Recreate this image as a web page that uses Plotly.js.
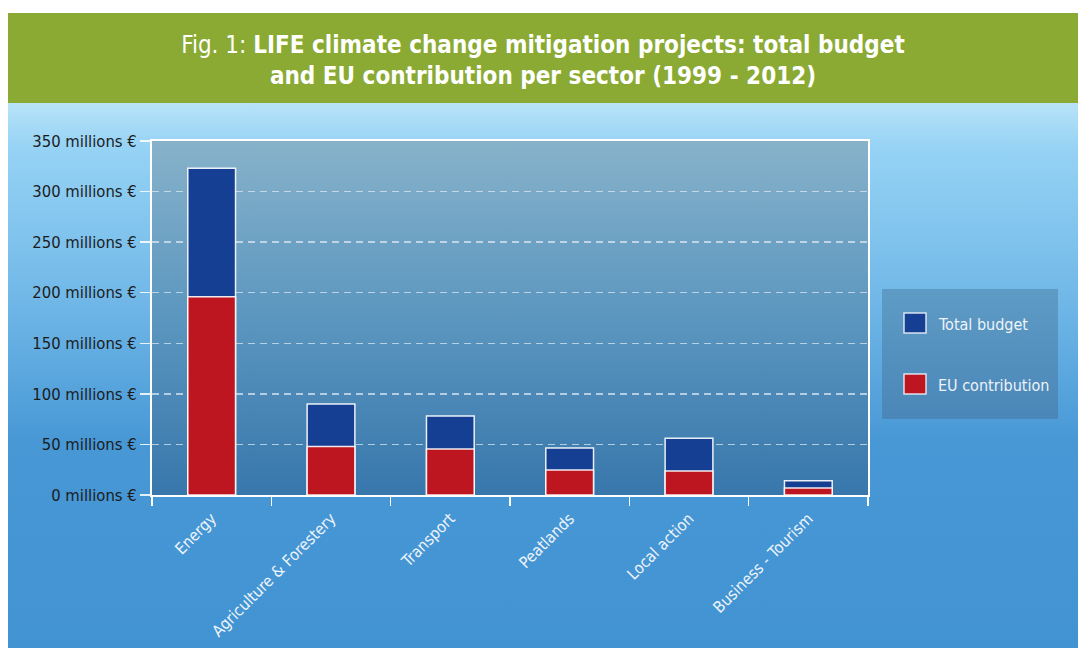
<!DOCTYPE html>
<html>
<head>
<meta charset="utf-8">
<script src="https://cdn.plot.ly/plotly-3.0.1.min.js"></script>
<style>
  html, body { margin: 0; padding: 0; background: #ffffff; }
  #chart { width: 1078px; height: 650px; }
</style>
</head>
<body>
<div id="chart"></div>
<script>
// ---- Data (millions €) ----
const sectors = ["Energy", "Agriculture & Forestery", "Transport", "Peatlands", "Local action", "Business - Tourism"];
const totalBudget = [323, 90, 78, 46.5, 56, 14];
const euContribution = [196, 48, 45.5, 24.7, 23.7, 7];
const seriesNames = ["Total budget", "EU contribution"];
const yTicks = [0, 50, 100, 150, 200, 250, 300, 350];
const yTickText = yTicks.map(v => v + ' millions €');

// ---- Geometry ----
const W = 1078, H = 650;
const M = { l: 152, r: W - 868, t: 141, b: H - 495 };
const pw = W - M.l - M.r, ph = H - M.t - M.b;

const bgSvg =
  '<svg xmlns="http://www.w3.org/2000/svg" width="' + W + '" height="' + H + '" viewBox="0 0 ' + W + ' ' + H + '">' +
  '<defs>' +
  '<linearGradient id="outer" x1="0" y1="103" x2="0" y2="648" gradientUnits="userSpaceOnUse">' +
  '<stop offset="0" stop-color="#b8e3f8"/>' +
  '<stop offset="0.08" stop-color="#96d3f5"/>' +
  '<stop offset="0.35" stop-color="#72b9e8"/>' +
  '<stop offset="0.62" stop-color="#4898d6"/>' +
  '<stop offset="1" stop-color="#4293d2"/>' +
  '</linearGradient>' +
  '<linearGradient id="plot" x1="0" y1="141" x2="0" y2="495" gradientUnits="userSpaceOnUse">' +
  '<stop offset="0" stop-color="#87b2ca"/>' +
  '<stop offset="0.5" stop-color="#5b96bf"/>' +
  '<stop offset="1" stop-color="#3877ac"/>' +
  '</linearGradient>' +
  '<linearGradient id="leg" x1="0" y1="289" x2="0" y2="419" gradientUnits="userSpaceOnUse">' +
  '<stop offset="0" stop-color="#5e9bc5"/>' +
  '<stop offset="1" stop-color="#4a87b8"/>' +
  '</linearGradient>' +
  '</defs>' +
  '<rect x="0" y="0" width="' + W + '" height="' + H + '" fill="#ffffff"/>' +
  '<rect x="8" y="13" width="' + (W - 8) + '" height="90" fill="#8aaa33"/>' +
  '<rect x="8" y="103" width="' + (W - 8) + '" height="545" fill="url(#outer)"/>' +
  '<rect x="152" y="141" width="716" height="354" fill="url(#plot)"/>' +
  '<rect x="882" y="289" width="176" height="130" fill="url(#leg)"/>' +
  '</svg>';
const bgUri = 'data:image/svg+xml;base64,' + btoa(unescape(encodeURIComponent(bgSvg)));

// convert pixel coords to paper coords
const px = x => (x - M.l) / pw;
const py = y => (H - M.b - y) / ph;

const fontFam = '"DejaVu Sans Condensed", "DejaVu Sans", sans-serif';

const traces = [
  {
    type: 'bar', name: seriesNames[0], x: sectors, y: totalBudget,
    width: 0.4,
    marker: { color: '#153f93', line: { color: 'rgba(255,255,255,0.9)', width: 1.5 } },
    showlegend: false, hoverinfo: 'x+y'
  },
  {
    type: 'bar', name: seriesNames[1], x: sectors, y: euContribution,
    width: 0.4,
    marker: { color: '#be1621', line: { color: 'rgba(255,255,255,0.9)', width: 1.5 } },
    showlegend: false, hoverinfo: 'x+y'
  }
];

const legendColors = ['#153f93', '#be1621'];
const legendY = [323, 384];
const shapes = [];
const annotations = [];
seriesNames.forEach((n, i) => {
  shapes.push({
    type: 'rect', xref: 'paper', yref: 'paper',
    x0: px(904), x1: px(926), y0: py(legendY[i] - 10), y1: py(legendY[i] + 10),
    fillcolor: legendColors[i], line: { color: 'rgba(235,240,248,0.9)', width: 1.5 }
  });
  annotations.push({
    xref: 'paper', yref: 'paper', x: px(936), y: py(legendY[i] + 1),
    xanchor: 'left', yanchor: 'middle', showarrow: false, text: n,
    font: { family: fontFam, size: 16, color: '#eef3f8' }
  });
});

const layout = {
  width: W, height: H,
  margin: M,
  paper_bgcolor: 'rgba(0,0,0,0)',
  plot_bgcolor: 'rgba(0,0,0,0)',
  barmode: 'overlay',
  bargap: 0.6,
  showlegend: false,
  title: {
    text: 'Fig. 1: <b>LIFE climate change mitigation projects: total budget<br>and EU contribution per sector (1999 - 2012)</b>',
    font: { family: fontFam, size: 24, color: '#ffffff' },
    x: 543 / W, xref: 'container', xanchor: 'center',
    y: 1 - 53 / H, yref: 'container', yanchor: 'middle'
  },
  images: [{
    source: bgUri, xref: 'paper', yref: 'paper',
    x: px(0), y: py(0), sizex: W / pw, sizey: H / ph,
    xanchor: 'left', yanchor: 'top', sizing: 'stretch', layer: 'below'
  }],
  xaxis: {
    type: 'category',
    tickangle: -45,
    tickfont: { family: fontFam, size: 16, color: '#eef4fa' },
    ticks: 'outside', tickson: 'boundaries', ticklen: 9, tickwidth: 1.5, tickcolor: '#ffffff',
    ticklabelstandoff: 6,
    showline: true, linecolor: '#ffffff', linewidth: 2, mirror: true,
    showgrid: false, zeroline: false, fixedrange: true
  },
  yaxis: {
    range: [0, 350],
    tickmode: 'array',
    tickvals: yTicks,
    ticktext: yTickText,
    tickfont: { family: fontFam, size: 16.5, color: '#1c1c1c' },
    ticks: 'outside', ticklen: 10, tickwidth: 1.5, tickcolor: 'rgba(255,255,255,0.85)',
    showline: true, linecolor: '#ffffff', linewidth: 2, mirror: true,
    showgrid: true, gridcolor: 'rgba(225,235,242,0.7)', gridwidth: 1.5, griddash: '7px,5px',
    zeroline: false, fixedrange: true
  },
  shapes: shapes,
  annotations: annotations
};

Plotly.newPlot('chart', traces, layout, { displayModeBar: false, staticPlot: true });
</script>
</body>
</html>
